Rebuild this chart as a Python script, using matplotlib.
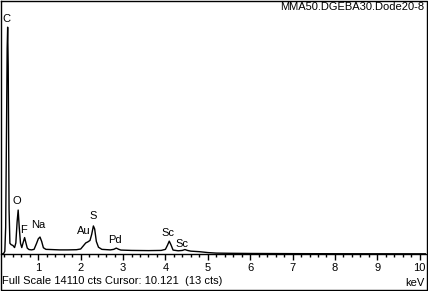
import matplotlib
matplotlib.use("Agg")
import matplotlib.pyplot as plt
from matplotlib.lines import Line2D
from matplotlib.ticker import MultipleLocator

# ---- data ----
energy_kev = [0.14, 0.18, 0.21, 0.23, 0.25, 0.265, 0.277, 0.29, 0.30, 0.31, 0.33,
              0.36, 0.40, 0.44, 0.47, 0.50, 0.525, 0.55, 0.58, 0.61, 0.64, 0.677,
              0.71, 0.74, 0.78, 0.84, 0.90, 0.96, 1.00, 1.04, 1.08, 1.12, 1.18,
              1.30, 1.50, 1.70, 1.90, 2.00, 2.06, 2.12, 2.17, 2.22, 2.26, 2.30,
              2.33, 2.37, 2.42, 2.50, 2.70, 2.78, 2.84, 2.90, 2.95, 3.20, 3.60,
              3.90, 4.00, 4.05, 4.09, 4.13, 4.18, 4.30, 4.40, 4.46, 4.52, 4.60,
              4.80, 5.00, 5.20, 5.50, 6.00, 7.00, 8.00, 9.00, 10.15]
counts = [0, 20, 150, 1500, 7000, 11500, 12700, 10500, 6500, 2500, 600,
          520, 480, 360, 620, 1800, 2460, 1500, 600, 360, 620, 920,
          600, 330, 250, 230, 260, 600, 850, 950, 700, 350, 260,
          250, 230, 230, 240, 280, 450, 620, 680, 760, 1100, 1570,
          1400, 700, 380, 260, 230, 260, 330, 260, 220, 200, 190,
          200, 260, 500, 720, 520, 220, 180, 200, 250, 200, 160,
          130, 80, 50, 40, 30, 20, 15, 12, 10]

peak_labels = ["C", "O", "F", "Na", "Au", "S", "Pd", "Sc", "Sc"]
label_kev = [0.254, 0.486, 0.639, 0.993, 2.078, 2.30, 2.81, 4.06, 4.40]
label_cts = [13160, 2940, 1344, 1624, 1288, 2128, 784, 1176, 560]

full_scale = 14110
title = "MMA50.DGEBA30.Dode20-8"
footer = "Full Scale 14110 cts Cursor: 10.121  (13 cts)"
xtick_values = list(range(1, 11))

# ---- figure ----
W, H = 428, 291
fig = plt.figure(figsize=(W / 100, H / 100), dpi=100)
plt.rcParams['font.family'] = ['Liberation Sans', 'DejaVu Sans']

ax_left, ax_right = 1, 426
ax_top, ax_bottom = 2, 254
ax = fig.add_axes([ax_left / W, (H - ax_bottom) / H,
                   (ax_right - ax_left) / W, (ax_bottom - ax_top) / H])

ax.plot(energy_kev, counts, color="black", linewidth=1.0)

x0 = 1 - (38.3 - ax_left) / 42.375
x1 = 1 + (ax_right - 38.3) / 42.375
ax.set_xlim(x0, x1)
ax.set_ylim(0, full_scale)

for s in ["top", "left", "right"]:
    ax.spines[s].set_visible(False)
ax.spines["bottom"].set_linewidth(1.0)
ax.set_yticks([])
ax.set_xticks(xtick_values)
ax.set_xticklabels([str(v) for v in xtick_values])
ax.xaxis.set_minor_locator(MultipleLocator(0.2))
ax.tick_params(axis="x", which="major", direction="out", length=4, width=1,
               pad=2.5, labelsize=8)
ax.tick_params(axis="x", which="minor", direction="out", length=2.2, width=1)

for lab, ex, cy in zip(peak_labels, label_kev, label_cts):
    ax.text(ex, cy, lab, ha="center", va="center", fontsize=8)

fig.text(424 / W, 1 - 7.5 / H, title, ha="right", va="center", fontsize=8)
fig.text(2 / W, 1 - 280.5 / H, footer, ha="left", va="center", fontsize=8)
fig.text(425 / W, 1 - 283 / H, "keV", ha="right", va="center", fontsize=8)

# outer frame
fx = [0.5 / W, 426.5 / W, 426.5 / W, 0.5 / W, 0.5 / W]
fy = [1 - 0.5 / H, 1 - 0.5 / H, 1 - 289.5 / H, 1 - 289.5 / H, 1 - 0.5 / H]
fig.add_artist(Line2D(fx, fy, color="black", linewidth=1.0,
                      transform=fig.transFigure))

fig.savefig("out.png", dpi=100)
